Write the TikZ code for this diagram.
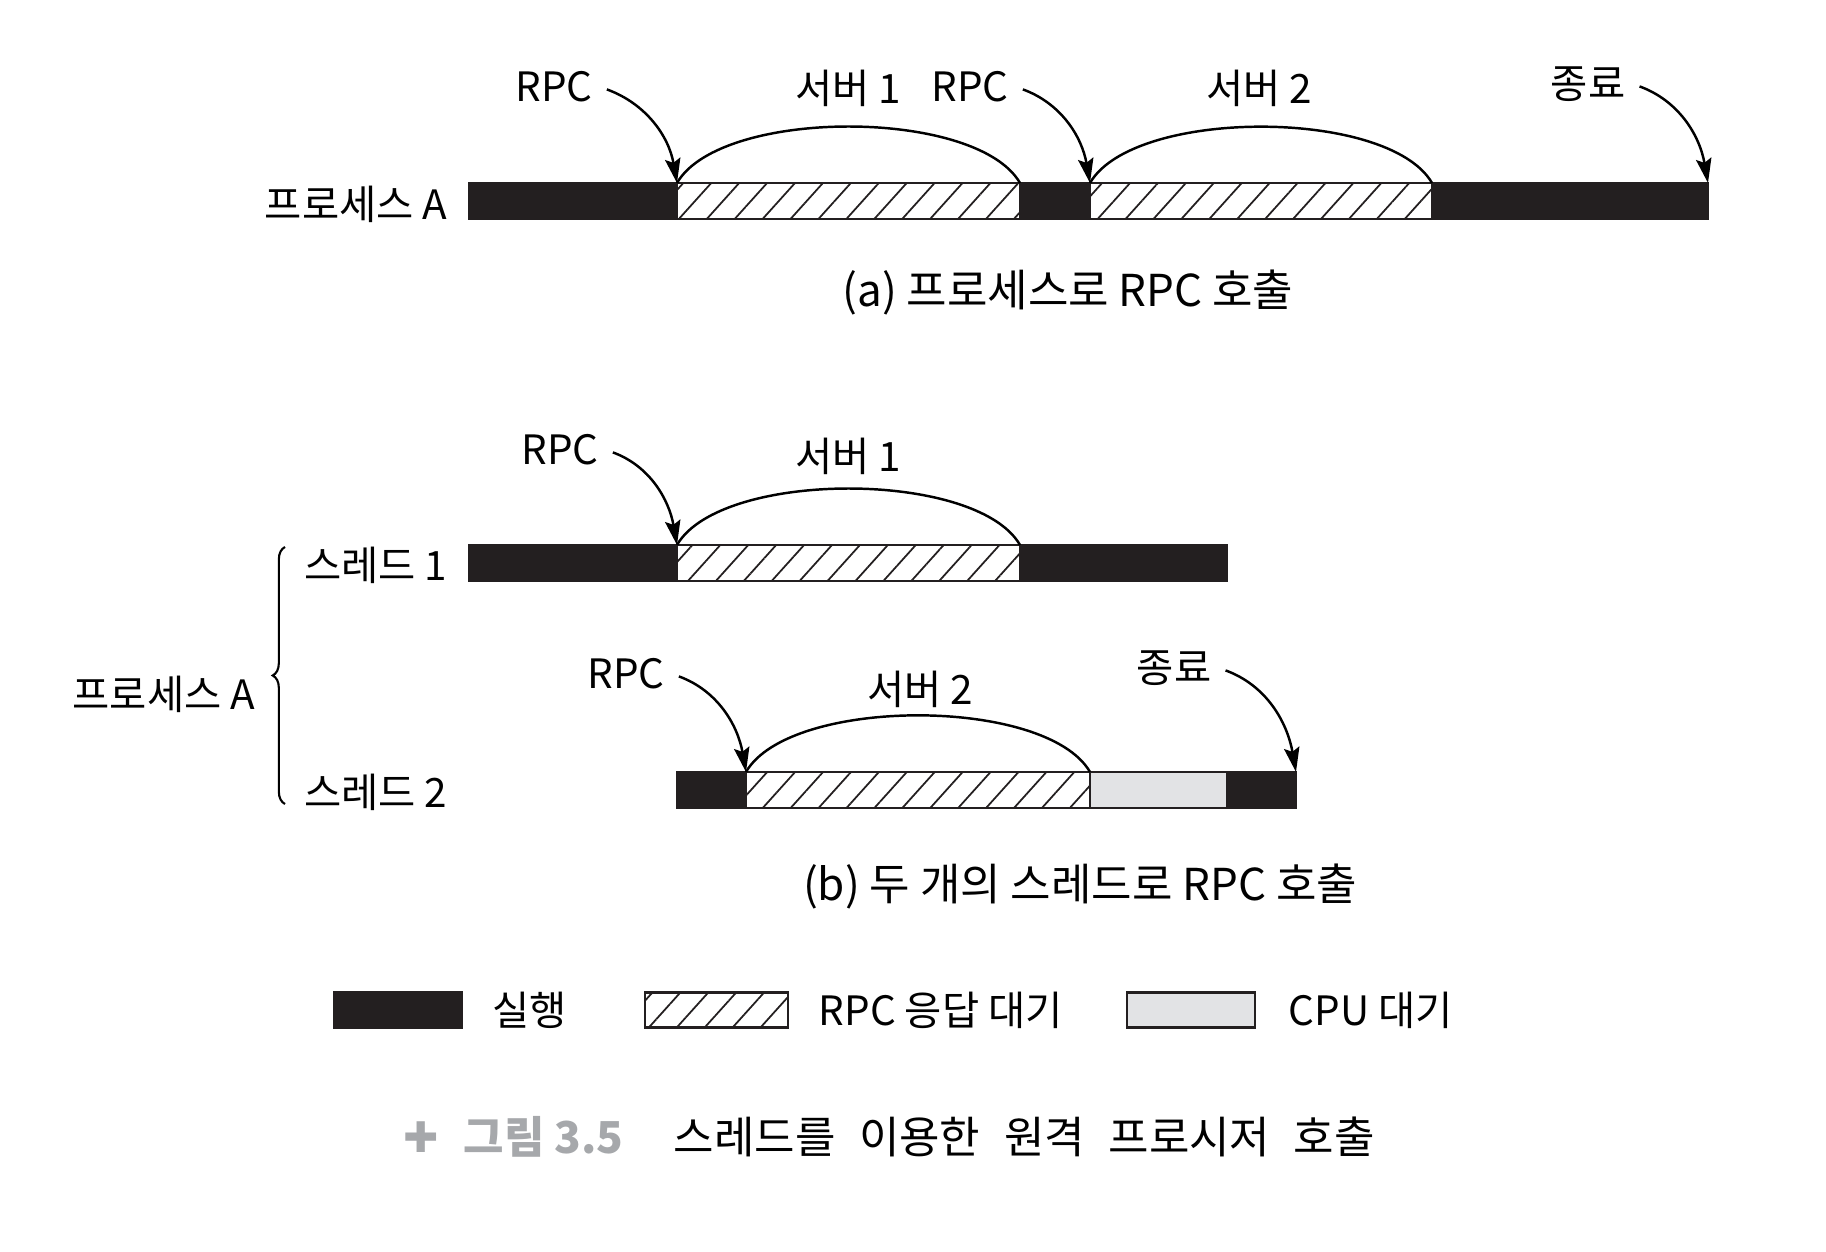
\documentclass[tikz,border=0pt]{standalone}
\usepackage{fontspec}
\setmainfont{Noto Sans CJK KR}
\newfontfamily\capfamily[WordSpace=2.4]{Noto Sans CJK KR}
\newfontfamily\symfont{DejaVu Sans}
\usetikzlibrary{arrows.meta,patterns.meta,decorations.pathreplacing}
\definecolor{runblack}{HTML}{231F20}
\definecolor{cpugray}{HTML}{E2E3E5}
\definecolor{capgray}{HTML}{A6A8AB}
\tikzset{
	seg/.style={rectangle, inner sep=0pt, outer sep=0pt, minimum height=0.36cm, line width=0.6pt, draw=runblack},
	run/.style={seg, fill=runblack},
	rpcwait/.style={seg, pattern={Lines[angle=48, distance=5.9pt, line width=0.5pt]}, pattern color=runblack},
	cpuwait/.style={seg, fill=cpugray},
	lbl/.style={font=\fontsize{11.5}{13}\selectfont, inner sep=2pt},
	capfont/.style={font=\fontsize{12.5}{15}\selectfont, inner sep=2pt},
	callout/.style={-{Stealth[length=7pt, width=4.4pt, inset=1.2pt]}, line width=0.7pt, shorten <=2pt},
	server/.style={line width=0.7pt},
}
\begin{document}
\begin{tikzpicture}[x=0.01cm, y=0.01cm]
	\useasboundingbox (0,0) rectangle (1826,-1252);
	% (a) process calls RPC
	\foreach \n/\s/\xa/\xb in {a1/run/469/677, a2/rpcwait/677/1020, a3/run/1020/1090, a4/rpcwait/1090/1432, a5/run/1432/1708} {\node[\s, anchor=west, minimum width={(\xb-\xa)*0.01cm}] (\n) at (\xa,-201) {};}
	\node[lbl, anchor=east] (procA) at (455,-204) {프로세스 A};
	\node[lbl] (rpcA1) at (554,-87) {RPC};
	\node[lbl] (srvA1) at (848,-88) {서버 1};
	\node[lbl] (rpcA2) at (970,-87) {RPC};
	\node[lbl] (srvA2) at (1259,-88) {서버 2};
	\node[lbl] (endA) at (1588,-84) {종료};
	\draw[server] (a2.north west) to[out=60, in=120, looseness=0.65] (a2.north east);
	\draw[server] (a4.north west) to[out=60, in=120, looseness=0.65] (a4.north east);
	\draw[callout] (rpcA1.east) to[out=-20, in=100] (a2.north west);
	\draw[callout] (rpcA2.east) to[out=-20, in=100] (a4.north west);
	\draw[callout] (endA.east) to[out=-20, in=100] (a5.north east);
	\node[capfont] (capA) at (1068,-293) {(a) 프로세스로 RPC 호출};
	% (b) two threads
	\foreach \n/\s/\xa/\xb in {b1/run/469/677, b2/rpcwait/677/1020, b3/run/1020/1227} {\node[\s, anchor=west, minimum width={(\xb-\xa)*0.01cm}] (\n) at (\xa,-563) {};}
	\foreach \n/\s/\xa/\xb in {c1/run/677/746, c2/rpcwait/746/1090, c3/cpuwait/1090/1227, c4/run/1227/1296} {\node[\s, anchor=west, minimum width={(\xb-\xa)*0.01cm}] (\n) at (\xa,-790) {};}
	\node[lbl, anchor=east] (thr1) at (455,-565) {스레드 1};
	\node[lbl, anchor=east] (thr2) at (455,-792) {스레드 2};
	\node[lbl, anchor=east] (procB) at (263,-694) {프로세스 A};
	\coordinate (brTop) at (285,-547);
	\coordinate (brBot) at (285,-804);
	\draw[line width=0.6pt, decorate, decoration={brace, amplitude=3.5pt}] (brBot) -- (brTop);
	\node[lbl] (rpcB1) at (560,-450) {RPC};
	\node[lbl] (srvB1) at (848,-456) {서버 1};
	\node[lbl] (rpcB2) at (626,-674) {RPC};
	\node[lbl] (srvB2) at (920,-689) {서버 2};
	\node[lbl] (endB) at (1174,-668) {종료};
	\draw[server] (b2.north west) to[out=60, in=120, looseness=0.65] (b2.north east);
	\draw[server] (c2.north west) to[out=60, in=120, looseness=0.65] (c2.north east);
	\draw[callout] (rpcB1.east) to[out=-20, in=100] (b2.north west);
	\draw[callout] (rpcB2.east) to[out=-20, in=100] (c2.north west);
	\draw[callout] (endB.east) to[out=-20, in=100] (c4.north east);
	\node[capfont] (capB) at (1080,-887) {(b) 두 개의 스레드로 RPC 호출};
	% legend
	\foreach \n/\s/\xa/\xb in {k1/run/334/462, k2/rpcwait/645/788, k3/cpuwait/1127/1255} {\node[\s, anchor=west, minimum height=0.35cm, minimum width={(\xb-\xa)*0.01cm}] (\n) at (\xa,-1010) {};}
	\node[lbl, anchor=west] (keyRun) at (485,-1010) {실행};
	\node[lbl, anchor=west] (keyRpc) at (811,-1010) {RPC 응답 대기};
	\node[lbl, anchor=west] (keyCpu) at (1281,-1010) {CPU 대기};
	% figure caption
	\node[capfont, text=capgray, font=\fontsize{12}{12}\selectfont] (figPlus) at (421,-1137) {\symfont ✚};
	\node[capfont, text=capgray, anchor=west, font=\fontsize{12.5}{15}\selectfont\bfseries] (figNum) at (456,-1137) {그림 3.5};
	\node[capfont, anchor=west] (figTitle) at (666,-1137) {\capfamily 스레드를 이용한 원격 프로시저 호출};
\end{tikzpicture}
\end{document}
